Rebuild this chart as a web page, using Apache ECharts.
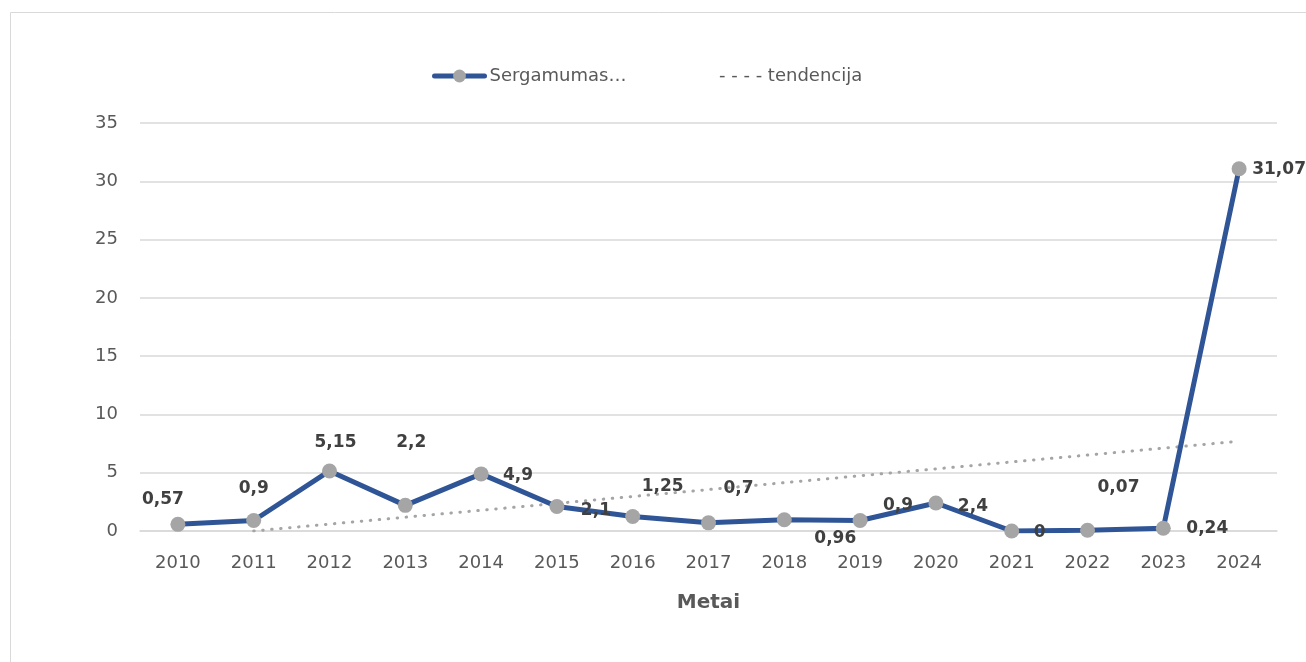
<!DOCTYPE html>
<html>
<head>
<meta charset="utf-8">
<script src="https://cdn.jsdelivr.net/npm/echarts@6/dist/echarts.min.js"></script>
<style>
  html, body { margin: 0; padding: 0; background: #ffffff; }
  #chart { width: 1306px; height: 662px; }
</style>
</head>
<body>
<div id="chart"></div>
<script>
// ---- data ----
var years = ['2010','2011','2012','2013','2014','2015','2016','2017','2018','2019','2020','2021','2022','2023','2024'];
var sergamumas = [0.57, 0.9, 5.15, 2.2, 4.9, 2.1, 1.25, 0.7, 0.96, 0.9, 2.4, 0, 0.07, 0.24, 31.07];
// trend line: starts at 2011 (~0) and ends at 2024 (~7.7)
var tendencija = [null, 0, null, null, null, null, null, null, null, null, null, null, null, null, 7.7];
var yTicks = [0, 5, 10, 15, 20, 25, 30, 35];
var seriesName = 'Sergamumas…';
var trendName = 'tendencija';
var axisName = 'Metai';

// ---- label offsets (style, px) ----
var labelOffsets = [
  [-15, -25], [0, -32], [6, -28], [6, -63], [37, 2], [39, 4], [30, -30],
  [30, -34], [51, 19], [38, -15], [37, 4], [28, 2], [31, -43], [44, 0], [40, 1]
];

var FONT = '"DejaVu Sans", "Open Sans", sans-serif';

var chart = echarts.init(document.getElementById('chart'), null, { renderer: 'canvas' });
chart.setOption({
  animation: false,
  backgroundColor: '#ffffff',
  textStyle: { fontFamily: FONT },
  graphic: [{
    type: 'rect',
    shape: { x: 10.5, y: 12.5, width: 1400, height: 800 },
    style: { fill: 'none', stroke: '#d9d9d9', lineWidth: 1 },
    silent: true,
    z: -10
  }],
  legend: [{
    data: [seriesName],
    left: 427,
    top: 62,
    itemWidth: 50,
    itemHeight: 16,
    itemGap: 4,
    lineStyle: { width: 5, cap: 'round' },
    textStyle: { fontFamily: FONT, fontSize: 18, color: '#595959' }
  }, {
    data: [trendName],
    left: 709,
    top: 62,
    icon: 'none',
    itemWidth: 0,
    itemGap: 0,
    formatter: function (n) { return '- - - - ' + n; },
    textStyle: { fontFamily: FONT, fontSize: 18, color: '#595959' }
  }],
  grid: { left: 140, right: 29, top: 123, bottom: 131, containLabel: false },
  xAxis: {
    type: 'category',
    data: years,
    boundaryGap: true,
    name: axisName,
    nameLocation: 'middle',
    nameGap: 62,
    nameTextStyle: { fontFamily: FONT, fontSize: 20, fontWeight: 'bold', color: '#595959' },
    axisLine: { show: true, lineStyle: { color: '#d9d9d9', width: 1.5 } },
    axisTick: { show: false },
    axisLabel: { margin: 23, fontFamily: FONT, fontSize: 18, color: '#595959' }
  },
  yAxis: {
    type: 'value',
    min: yTicks[0],
    max: yTicks[yTicks.length - 1],
    interval: 5,
    axisLine: { show: false },
    axisTick: { show: false },
    axisLabel: { margin: 22, fontFamily: FONT, fontSize: 18, color: '#595959' },
    splitLine: { lineStyle: { color: '#d9d9d9', width: 1.5 } }
  },
  series: [{
    name: seriesName,
    type: 'line',
    data: sergamumas,
    z: 3,
    symbol: 'circle',
    symbolSize: 15,
    itemStyle: { color: '#a5a5a5' },
    lineStyle: { color: '#2f5597', width: 5 },
    label: {
      show: true,
      position: 'inside',
      align: 'center',
      verticalAlign: 'middle',
      fontFamily: FONT,
      fontSize: 17,
      fontWeight: 'bold',
      color: '#404040',
      formatter: function (p) { return String(p.value).replace('.', ','); }
    },
    labelLayout: function (params) {
      var o = labelOffsets[params.dataIndex] || [0, 0];
      return { dx: o[0], dy: o[1], hideOverlap: false };
    }
  }, {
    name: trendName,
    type: 'line',
    data: tendencija,
    connectNulls: true,
    z: 2,
    symbol: 'none',
    itemStyle: { color: '#a5a5a5' },
    lineStyle: { color: '#a5a5a5', width: 3, type: [0.5, 8.5], cap: 'round' }
  }]
});
</script>
</body>
</html>
